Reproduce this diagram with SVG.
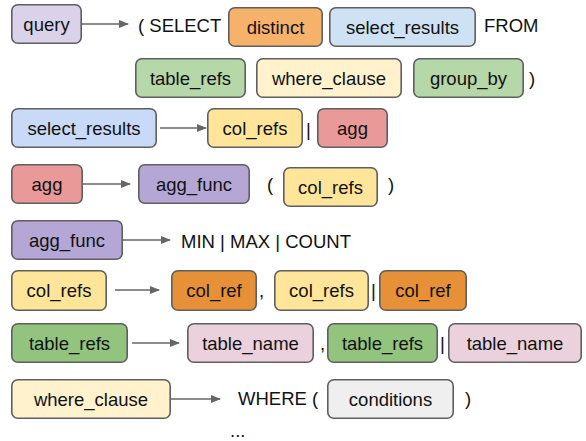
<svg xmlns="http://www.w3.org/2000/svg" width="586" height="441" viewBox="0 0 586 441">
<defs>
<style>
.b{stroke:#5f5f5f;stroke-width:1.6}
.t{font-family:"Liberation Sans",Arial,sans-serif;font-size:18.5px;fill:#111}
.m{text-anchor:middle}
.c{stroke:#666;stroke-width:1.3;fill:none}
</style>
<marker id="ah" markerWidth="10" markerHeight="8" refX="9" refY="4" orient="auto" markerUnits="userSpaceOnUse">
<path d="M0,0 L10,4 L0,8 z" fill="#666"/>
</marker>
</defs>
<rect width="586" height="441" fill="#fff"/>
<g id="connectors">
<line class="c" x1="82" y1="24" x2="128" y2="24" marker-end="url(#ah)"/>
<line class="c" x1="160" y1="128" x2="206" y2="128" marker-end="url(#ah)"/>
<line class="c" x1="83" y1="184" x2="130" y2="184" marker-end="url(#ah)"/>
<line class="c" x1="123" y1="240" x2="170" y2="240" marker-end="url(#ah)"/>
<line class="c" x1="115" y1="290" x2="159" y2="290" marker-end="url(#ah)"/>
<line class="c" x1="132" y1="343" x2="179" y2="343" marker-end="url(#ah)"/>
<line class="c" x1="171" y1="399" x2="220" y2="399" marker-end="url(#ah)"/>
</g>
<g id="query"><rect class="b" x="11.8" y="4.8" width="69.4" height="38.4" rx="6" fill="#d9d2e9"/><text class="t m" x="46.5" y="30.5">query</text></g>
<text class="t" x="138" y="32">( SELECT</text>
<g id="distinct"><rect class="b" x="228.8" y="7.8" width="93.4" height="38.4" rx="6" fill="#f6b26b"/><text class="t m" x="275.5" y="33.5">distinct</text></g>
<g id="select_results_1"><rect class="b" x="329.8" y="7.8" width="145.4" height="38.4" rx="6" fill="#cfe2f3"/><text class="t m" x="402.5" y="33.5">select_results</text></g>
<text class="t" x="484" y="32">FROM</text>
<g id="table_refs_1"><rect class="b" x="135.8" y="58.8" width="109.4" height="38.4" rx="6" fill="#b6d7a8"/><text class="t m" x="190.5" y="84.5">table_refs</text></g>
<g id="where_clause_1"><rect class="b" x="256.8" y="58.8" width="144.4" height="38.4" rx="6" fill="#fff2cc"/><text class="t m" x="329" y="84.5">where_clause</text></g>
<g id="group_by"><rect class="b" x="413.8" y="58.8" width="109.4" height="38.4" rx="6" fill="#b6d7a8"/><text class="t m" x="468.5" y="84.5">group_by</text></g>
<text class="t" x="529" y="84.5">)</text>
<g id="select_results_2"><rect class="b" x="11.8" y="108.8" width="144.4" height="38.4" rx="6" fill="#c9daf8"/><text class="t m" x="84" y="134.5">select_results</text></g>
<g id="col_refs_1"><rect class="b" x="207.8" y="108.8" width="94.4" height="38.4" rx="6" fill="#ffe599"/><text class="t m" x="255" y="134.5">col_refs</text></g>
<text class="t" x="306" y="136">|</text>
<g id="agg_1"><rect class="b" x="317.8" y="108.8" width="69.4" height="38.4" rx="6" fill="#ea9999"/><text class="t m" x="352.5" y="134.5">agg</text></g>
<g id="agg_2"><rect class="b" x="11.8" y="164.8" width="70.4" height="38.4" rx="6" fill="#ea9999"/><text class="t m" x="47" y="190.5">agg</text></g>
<g id="agg_func_1"><rect class="b" x="138.8" y="164.8" width="110.4" height="38.4" rx="6" fill="#b4a7d6"/><text class="t m" x="194" y="190.5">agg_func</text></g>
<text class="t" x="267" y="191">(</text>
<g id="col_refs_2"><rect class="b" x="283.8" y="167.8" width="93.4" height="38.4" rx="6" fill="#ffe599"/><text class="t m" x="330.5" y="193.5">col_refs</text></g>
<text class="t" x="388" y="191">)</text>
<g id="agg_func_2"><rect class="b" x="11.8" y="220.8" width="110.4" height="38.4" rx="6" fill="#b4a7d6"/><text class="t m" x="67" y="246.5">agg_func</text></g>
<text class="t" x="181" y="248">MIN | MAX | COUNT</text>
<g id="col_refs_3"><rect class="b" x="11.8" y="270.8" width="94.4" height="39.4" rx="6" fill="#ffe599"/><text class="t m" x="59" y="297">col_refs</text></g>
<g id="col_ref_1"><rect class="b" x="171.8" y="270.8" width="84.4" height="39.4" rx="6" fill="#e69138"/><text class="t m" x="214" y="297">col_ref</text></g>
<text class="t" x="259" y="297">,</text>
<g id="col_refs_4"><rect class="b" x="274.8" y="270.8" width="93.4" height="39.4" rx="6" fill="#ffe599"/><text class="t m" x="321.5" y="297">col_refs</text></g>
<text class="t" x="371" y="297">|</text>
<g id="col_ref_2"><rect class="b" x="379.8" y="270.8" width="86.4" height="39.4" rx="6" fill="#e69138"/><text class="t m" x="423" y="297">col_ref</text></g>
<g id="table_refs_2"><rect class="b" x="11.8" y="323.8" width="115.4" height="38.4" rx="6" fill="#93c47d"/><text class="t m" x="69.5" y="349.5">table_refs</text></g>
<g id="table_name_1"><rect class="b" x="187.8" y="323.8" width="125.4" height="38.4" rx="6" fill="#ead1dc"/><text class="t m" x="250.5" y="349.5">table_name</text></g>
<text class="t" x="320" y="350">,</text>
<g id="table_refs_3"><rect class="b" x="327.8" y="323.8" width="109.4" height="38.4" rx="6" fill="#93c47d"/><text class="t m" x="382.5" y="349.5">table_refs</text></g>
<text class="t" x="440" y="350">|</text>
<g id="table_name_2"><rect class="b" x="448.8" y="323.8" width="132.4" height="38.4" rx="6" fill="#ead1dc"/><text class="t m" x="515" y="349.5">table_name</text></g>
<g id="where_clause_2"><rect class="b" x="11.8" y="379.8" width="158.4" height="38.4" rx="6" fill="#fff2cc"/><text class="t m" x="91" y="405.5">where_clause</text></g>
<text class="t" x="238" y="405">WHERE (</text>
<g id="conditions"><rect class="b" x="327.8" y="379.8" width="125.4" height="38.4" rx="6" fill="#efefef"/><text class="t m" x="390.5" y="405.5">conditions</text></g>
<text class="t" x="465" y="405">)</text>
<text class="t" x="230" y="437">...</text>
</svg>
